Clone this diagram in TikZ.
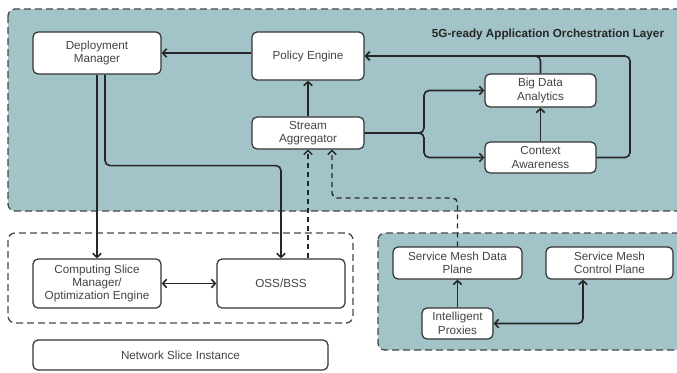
\documentclass[tikz,border=0pt]{standalone}
\usepackage{fontspec}
\setmainfont{Liberation Sans}
\usetikzlibrary{arrows.meta,calc}
\definecolor{teal1}{RGB}{162,196,200}
\definecolor{edge}{RGB}{51,51,51}
\definecolor{txt}{RGB}{68,68,68}
\definecolor{dashc}{RGB}{70,70,70}
\tikzset{
  box/.style={draw=edge,fill=white,line width=1.2pt,rounded corners=5pt,align=center,
    font=\fontsize{11.7}{13.4}\selectfont,text=txt,inner sep=1pt},
  frame/.style={draw=dashc,line width=1.3pt,dash pattern=on 7pt off 4pt,rounded corners=7pt},
  conn/.style={draw=black!85,line width=1.6pt,rounded corners=5pt},
  arr/.style={conn,-{Straight Barb[length=4pt,width=8.5pt]}},
  darr/.style={conn,{Straight Barb[length=4pt,width=8.5pt]}-{Straight Barb[length=4pt,width=8.5pt]}},
  dasharr/.style={arr,line width=1.4pt,dash pattern=on 5pt off 4pt}
}
\begin{document}
\begin{tikzpicture}[x=1pt,y=-1pt]
\useasboundingbox (0,0) rectangle (677,372);
\clip (0,0) rectangle (677,372);
% containers
\path[frame,fill=teal1] (8,9) rectangle (700,211);
\path[frame] (8,233) rectangle (353,323);
\path[frame,fill=teal1] (378,233) rectangle (700,350);
\node[font=\fontsize{11.7}{13}\selectfont\bfseries,text=black!85] (title) at (548,34) {5G-ready Application Orchestration Layer};
% nodes
\node[box,minimum width=128pt,minimum height=42pt] (dm) at (97,53) {Deployment\\Manager};
\node[box,minimum width=112pt,minimum height=48pt] (pe) at (308,56) {Policy Engine};
\node[box,minimum width=112pt,minimum height=32pt] (sa) at (308,133) {Stream\\Aggregator};
\node[box,minimum width=111pt,minimum height=33pt] (bda) at (540.5,90.5) {Big Data\\Analytics};
\node[box,minimum width=111pt,minimum height=31pt] (ca) at (540.5,157.5) {Context\\Awareness};
\node[box,minimum width=128pt,minimum height=49pt] (csm) at (97,283.5) {Computing Slice\\Manager/\\Optimization Engine};
\node[box,minimum width=128pt,minimum height=49pt] (oss) at (281,283.5) {OSS/BSS};
\node[box,minimum width=295pt,minimum height=30pt] (nsi) at (180.5,355) {Network Slice Instance};
\node[box,minimum width=129pt,minimum height=32pt] (dp) at (457.5,263) {Service Mesh Data\\Plane};
\node[box,minimum width=127pt,minimum height=32pt] (cp) at (609.5,263) {Service Mesh\\Control Plane};
\node[box,minimum width=71pt,minimum height=31pt] (ip) at (457.5,323.5) {Intelligent\\Proxies};
% connectors
\coordinate (j1) at (424,133);
\coordinate (rc) at (630,157.5);
\coordinate (k) at (332,198);
\draw[arr] (pe.west|-dm.east) -- (dm.east);
\draw[arr] (sa.north) -- (pe.south);
\draw[arr] (sa.east) -- (j1) |- (bda.west);
\draw[arr] (sa.east) -- (j1) |- (ca.west);
\draw[arr] (ca.north) -- (bda.south);
\draw[arr] (bda.north) |- (pe.east);
\draw[arr] (ca.east) -- (rc) |- (pe.east);
\draw[arr] (dm.south) -- (csm.north);
\draw[arr] ([xshift=8pt]dm.south) -- ([xshift=8pt,yshift=-91pt]dm.south) -| (oss.north);
\draw[darr] (csm.east) -- (oss.west);
\draw[dasharr] (sa.south|-oss.north) -- (sa.south);
\draw[dasharr] (dp.north) |- (k) -- ([xshift=24pt]sa.south);
\draw[arr] (ip.north) -- (dp.south);
\draw[darr] (ip.east) -| ([xshift=-26.5pt]cp.south);
\end{tikzpicture}
\end{document}
